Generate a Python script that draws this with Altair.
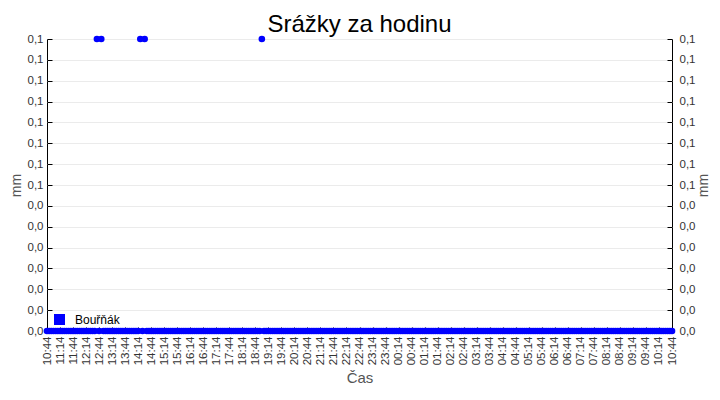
import altair as alt
import pandas as pd

# --- data ---------------------------------------------------------------
series_name = "Bouřňák"
# minutes after 10:44 (readings every 5 minutes over 24 h)
minutes = list(range(0, 1441, 5))
# non-zero readings (minutes after 10:44 -> mm)
rain_events = {115: 0.1, 125: 0.1, 215: 0.1, 225: 0.1, 495: 0.1}
values = [rain_events.get(m, 0.0) for m in minutes]

x_tick_minutes = list(range(0, 1441, 30))          # labels 10:44, 11:14, ...
y_tick_values = [i * 0.1 / 14 for i in range(15)]  # shown as 0,0 ... 0,1

df = pd.DataFrame({"t": minutes, "mm": values, "serie": [series_name] * len(minutes)})

FONT = "Liberation Sans"
BLUE = "#0000ff"

y_label_expr = "replace(format(datum.value + 0.000000001, '.1f'), '.', ',')"
x_label_expr = "utcFormat((datum.value + 644) * 60000, '%H:%M')"

x_enc = alt.X(
    "t:Q",
    scale=alt.Scale(domain=[0, 1440], nice=False, zero=False),
    axis=alt.Axis(
        values=x_tick_minutes, labelExpr=x_label_expr, labelAngle=270,
        labelAlign="right", labelBaseline="middle", offset=-4, tickSize=4,
        labelPadding=5, domain=False, grid=False, tickColor="black",
        labelFont=FONT, labelFontSize=11.5, labelColor="#333333",
        title="Čas", titleFont=FONT, titleFontSize=15, titleFontWeight="normal",
        titleColor="#555555", titlePadding=6, labelOverlap=False, labelFlush=False,
    ),
)

y_scale = alt.Scale(domain=[0, 0.1], nice=False, zero=True)

left = alt.Chart(df).mark_circle(size=44, opacity=1).encode(
    x=x_enc,
    y=alt.Y(
        "mm:Q", scale=y_scale,
        axis=alt.Axis(
            orient="left", values=y_tick_values, labelExpr=y_label_expr,
            offset=-5, tickSize=5, labelPadding=4, domain=False, grid=True,
            gridColor="#ebebeb", tickColor="black", labelFont=FONT,
            labelFontSize=11.5, labelColor="#333333", title="mm", titleFont=FONT,
            titleFontSize=14, titleFontWeight="normal", titleColor="#555555",
            titlePadding=4, labelOverlap=False, labelFlush=False,
        ),
    ),
    color=alt.Color(
        "serie:N", scale=alt.Scale(range=[BLUE]),
        legend=alt.Legend(
            orient="none", legendX=6, legendY=274, title=None, symbolType="square",
            symbolSize=121, labelFont=FONT, labelFontSize=12, labelColor="black",
            padding=0, symbolOpacity=1, labelOffset=9,
        ),
    ),
)

right = alt.Chart(df).mark_circle(size=44, opacity=0).encode(
    x=x_enc,
    y=alt.Y(
        "mm:Q", scale=y_scale,
        axis=alt.Axis(
            orient="right", values=y_tick_values, labelExpr=y_label_expr,
            offset=-5, tickSize=5, labelPadding=7, domain=False, grid=False,
            tickColor="black", labelFont=FONT, labelFontSize=11.5,
            labelColor="#333333", title="mm", titleAngle=270, titleFont=FONT,
            titleFontSize=14, titleFontWeight="normal", titleColor="#555555",
            titlePadding=16, labelOverlap=False, labelFlush=False,
        ),
    ),
)

chart = (
    alt.layer(left, right)
    .resolve_axis(y="independent")
    .resolve_scale(y="shared")
    .properties(
        width=625, height=292, autosize="none",
        padding={"left": 39, "top": 31, "right": 40, "bottom": 61},
        title=alt.TitleParams(
            "Srážky za hodinu", font=FONT, fontSize=24, fontWeight="normal",
            color="black", anchor="middle", offset=-4,
        ),
    )
    .configure_view(stroke="black", strokeWidth=1)
)

chart.save("out.html", embed_options={"renderer": "svg", "actions": False})
